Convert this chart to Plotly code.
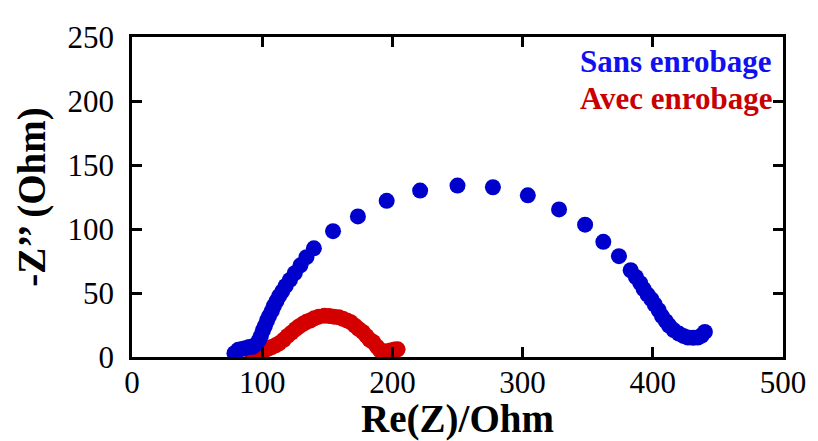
import plotly.graph_objects as go

# Sans enrobage (blue)
sans_x = [78.7, 81.6, 84.5, 87.0, 90.0, 92.6, 95.5, 97.5, 99.0, 100.5, 102.0, 103.7, 105.3,
          107.4, 109.0, 111.0, 113.0, 115.4, 118.0, 121.3, 125.0, 129.4, 134.0, 139.7,
          154.4, 173.5, 195.6, 221.3, 250.0, 277.2, 304.0, 328.0, 348.0, 362.0, 374.0,
          383.0, 387.0, 390.4, 393.0, 396.0, 399.0, 401.5, 404.5, 407.0, 410.0, 412.5,
          416.0, 420.0, 423.5, 427.0, 431.0, 434.6, 437.5, 440.0]
sans_y = [3.0, 5.6, 6.3, 6.9, 7.9, 8.0, 10.0, 13.2, 16.5, 20.8, 24.0, 28.5, 32.0,
          36.0, 40.0, 43.7, 47.5, 51.3, 55.5, 60.2, 65.5, 71.6, 78.0, 84.9,
          98.3, 109.8, 122.0, 130.0, 133.9, 132.6, 126.3, 115.3, 103.4, 90.0, 78.8,
          67.8, 62.5, 57.7, 53.0, 48.8, 45.0, 41.0, 36.5, 32.0, 28.0, 24.6,
          21.0, 18.3, 16.5, 15.2, 15.0, 15.2, 16.8, 19.6]

# Avec enrobage (red)
avec_x = [92.6, 96.0, 99.5, 102.6, 105.0, 107.4, 110.3, 113.0, 116.5, 119.5, 122.5, 125.7,
          128.5, 131.5, 134.0, 136.8, 140.0, 143.5, 147.8, 151.5, 155.0, 158.8, 162.0,
          165.0, 168.0, 171.2, 174.0, 177.2, 180.0, 182.5, 185.2, 188.2, 190.3, 193.0,
          195.6, 198.5, 201.7, 204.0]
avec_y = [0.5, 1.8, 3.5, 5.6, 6.8, 7.8, 9.2, 10.7, 13.5, 16.5, 19.0, 21.9,
          24.0, 26.0, 27.5, 28.5, 30.3, 31.5, 32.3, 32.0, 31.5, 31.0, 29.8,
          28.6, 27.2, 24.5, 22.0, 19.6, 16.5, 13.5, 11.7, 8.1, 5.4, 4.5,
          4.3, 5.0, 5.9, 6.0]

x_ticks = [0, 100, 200, 300, 400, 500]
y_ticks = [0, 50, 100, 150, 200, 250]

BLUE = "#0000cd"
RED = "#d40000"
FONT = "Liberation Serif"

fig = go.Figure()
fig.add_trace(go.Scatter(x=avec_x, y=avec_y, mode="markers", name="Avec enrobage",
                         marker=dict(size=16, color=RED, line=dict(width=0))))
fig.add_trace(go.Scatter(x=sans_x, y=sans_y, mode="markers", name="Sans enrobage",
                         marker=dict(size=16, color=BLUE, line=dict(width=0))))

fig.add_annotation(x=493, y=230.5, xref="x", yref="y", text="<b>Sans enrobage</b>",
                   showarrow=False, xanchor="right", yanchor="middle",
                   font=dict(family=FONT, size=31, color="#1010f0"))
fig.add_annotation(x=494, y=202, xref="x", yref="y", text="<b>Avec enrobage</b>",
                   showarrow=False, xanchor="right", yanchor="middle",
                   font=dict(family=FONT, size=31, color="#c80000"))

axis_common = dict(showgrid=False, zeroline=False, showline=True, linecolor="black",
                   linewidth=2.5, mirror="ticks", ticks="inside", ticklen=10,
                   tickwidth=2.5, tickcolor="black",
                   tickfont=dict(family=FONT, size=31, color="black"))

fig.update_xaxes(range=[0, 500], tickvals=x_ticks, ticktext=[str(v) for v in x_ticks],
                 ticklabelstandoff=-4,
                 title=dict(text="<b>Re(Z)/Ohm</b>", font=dict(family=FONT, size=39, color="black"),
                            standoff=0),
                 **axis_common)
fig.update_yaxes(range=[0, 250], tickvals=y_ticks, ticktext=[str(v) for v in y_ticks],
                 ticklabelstandoff=9,
                 title=dict(text="<b>-Z’’ (Ohm)</b>", font=dict(family=FONT, size=39, color="black"),
                            standoff=10),
                 **axis_common)

# the page body has an 8px default margin, so the figure is 8px smaller and offset
fig.update_layout(width=810, height=433, showlegend=False,
                  margin=dict(l=124, r=30, t=21, b=84),
                  plot_bgcolor="white", paper_bgcolor="white")

fig.write_html("out.html")
